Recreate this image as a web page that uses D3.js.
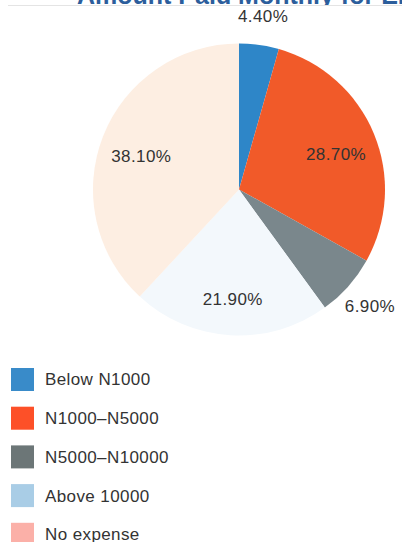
<!DOCTYPE html>
<head>
    <meta charset="utf-8">
    <script src="https://d3js.org/d3.v7.min.js"></script>
    <style>
        body { margin:0; background:#fff; overflow:hidden; }
        text { font-family: "Liberation Sans", Arial, sans-serif; fill: #333; }
        .title { font-size: 25px; font-weight: bold; fill: #2c5e9c; }
        .pct { font-size: 17px; letter-spacing: 0.4px; text-anchor: middle; }
        .legendText { font-size: 17px; letter-spacing: 0.4px; }
    </style>
</head>

<body>
<script>
    var categories = ['Below N1000', 'N1000\u2013N5000', 'N5000\u2013N10000', 'Above 10000', 'No expense'];
    var values = [4.4, 28.7, 6.9, 21.9, 38.1];
    var valueLabels = ['4.40%', '28.70%', '6.90%', '21.90%', '38.10%'];

    // slice fills are washed out, the legend keeps the stronger swatches
    var sliceColors = ['#2e86c8', '#f15a29', '#7a878c', '#f3f8fc', '#fdeee2'];
    var legendColors = ['#398bc9', '#fd5028', '#6c7677', '#a9cde6', '#fbb0a8'];

    var width = 402;
    var height = 542;
    var radius = 146;
    var cx = 239, cy = 189.5;

    var svg = d3.select("body").append("svg")
        .attr("width", width)
        .attr("height", height);

    // title is cropped, only the bottom of the glyphs shows
    svg.append('clipPath')
        .attr('id', 'titleClip')
        .append('rect')
        .attr('x', 0).attr('y', 0)
        .attr('width', width).attr('height', 5);

    svg.append('text')
        .attr('class', 'title')
        .attr('clip-path', 'url(#titleClip)')
        .attr('x', 77)
        .attr('y', 4)
        .text('Amount Paid Monthly for Electricity');

    svg.append('line')
        .attr('x1', 8).attr('x2', width)
        .attr('y1', 5.5).attr('y2', 5.5)
        .attr('stroke', '#e4e4e4')
        .attr('stroke-width', 1);

    var data = categories.map((c, i) => ({ name: c, value: values[i], label: valueLabels[i], idx: i }));

    var pie = d3.pie()
        .value(d => d.value)
        .sort(null);

    var arc = d3.arc().innerRadius(0).outerRadius(radius);
    var inLabel = d3.arc().innerRadius(105).outerRadius(105);
    var outLabel = d3.arc().innerRadius(175).outerRadius(175);

    var g = svg.append('g')
        .attr("transform", "translate(" + cx + "," + cy + ")");

    var arcs = pie(data);

    g.selectAll('path.slice')
        .data(arcs)
        .enter()
        .append('path')
        .attr('class', 'slice')
        .attr('d', arc)
        .attr('fill', d => sliceColors[d.data.idx]);

    g.selectAll('text.pct')
        .data(arcs)
        .enter()
        .append('text')
        .attr('class', 'pct')
        .attr('transform', d => {
            var small = d.data.value < 10;
            var p = small ? outLabel.centroid(d) : inLabel.centroid(d);
            return "translate(" + p[0] + "," + (p[1] + (small ? 0 : 5)) + ")";
        })
        .attr('dy', '0.35em')
        .text(d => d.data.label);

    var legend = svg.selectAll('.legend')
        .data(data)
        .enter()
        .append('g')
        .attr('class', 'legend')
        .attr('transform', (d, i) => "translate(11," + (368 + i * 38.7) + ")");

    legend.append('rect')
        .attr('width', 23)
        .attr('height', 23)
        .attr('fill', d => legendColors[d.idx]);

    legend.append('text')
        .attr('class', 'legendText')
        .attr('x', 34)
        .attr('y', 11.5)
        .attr('dy', '0.35em')
        .text(d => d.name);
</script>
</body>
